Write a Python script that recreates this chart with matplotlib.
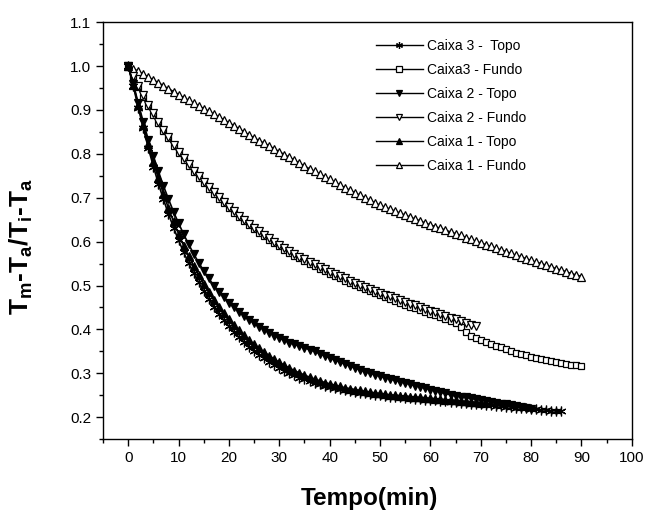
import numpy as np
import matplotlib
matplotlib.use('Agg')
import matplotlib.pyplot as plt
from matplotlib.ticker import MultipleLocator

plt.rcParams['font.family'] = ['Liberation Sans', 'DejaVu Sans']
plt.rcParams['mathtext.fontset'] = 'custom'
plt.rcParams['mathtext.rm'] = 'Liberation Sans:bold'

# values, one point per minute
caixa3_topo = [1.000, 0.955, 0.905, 0.858, 0.813, 0.771, 0.732, 0.696, 0.663, 0.632,
               0.603, 0.576, 0.551, 0.528, 0.507, 0.487, 0.469, 0.452, 0.436, 0.421,
               0.407, 0.394, 0.382, 0.371, 0.361, 0.351, 0.342, 0.334, 0.326, 0.319,
               0.312, 0.306, 0.300, 0.295, 0.290, 0.286, 0.282, 0.278, 0.275, 0.272,
               0.269, 0.266, 0.264, 0.262, 0.260, 0.258, 0.256, 0.254, 0.253, 0.251,
               0.250, 0.248, 0.247, 0.246, 0.245, 0.244, 0.243, 0.242, 0.241, 0.240,
               0.239, 0.238, 0.237, 0.236, 0.235, 0.234, 0.233, 0.232, 0.231, 0.230,
               0.229, 0.228, 0.227, 0.226, 0.225, 0.224, 0.223, 0.222, 0.221, 0.220,
               0.219, 0.218, 0.217, 0.216, 0.215, 0.214, 0.213]

caixa3_fundo = [1.000, 0.975, 0.952, 0.930, 0.909, 0.889, 0.870, 0.852, 0.835, 0.818,
                0.802, 0.787, 0.773, 0.759, 0.746, 0.733, 0.721, 0.709, 0.698, 0.687,
                0.676, 0.666, 0.656, 0.647, 0.638, 0.629, 0.620, 0.612, 0.604, 0.596,
                0.589, 0.582, 0.575, 0.568, 0.562, 0.556, 0.550, 0.544, 0.538, 0.532,
                0.527, 0.521, 0.516, 0.511, 0.506, 0.501, 0.496, 0.491, 0.487, 0.482,
                0.478, 0.473, 0.469, 0.465, 0.460, 0.456, 0.452, 0.448, 0.444, 0.440,
                0.436, 0.432, 0.428, 0.424, 0.420, 0.414, 0.405, 0.395, 0.386, 0.380,
                0.375, 0.371, 0.367, 0.363, 0.359, 0.355, 0.351, 0.347, 0.344, 0.341,
                0.338, 0.335, 0.333, 0.330, 0.328, 0.326, 0.324, 0.322, 0.320, 0.318,
                0.316]

caixa2_topo = [1.000, 0.960, 0.915, 0.872, 0.832, 0.795, 0.760, 0.727, 0.697, 0.668,
               0.642, 0.617, 0.594, 0.572, 0.552, 0.533, 0.516, 0.500, 0.486, 0.473,
               0.461, 0.450, 0.440, 0.431, 0.422, 0.414, 0.406, 0.399, 0.392, 0.386,
               0.380, 0.375, 0.370, 0.366, 0.362, 0.358, 0.354, 0.350, 0.345, 0.340,
               0.335, 0.330, 0.326, 0.321, 0.317, 0.312, 0.308, 0.304, 0.300, 0.297,
               0.293, 0.290, 0.287, 0.284, 0.281, 0.278, 0.275, 0.272, 0.269, 0.266,
               0.263, 0.260, 0.257, 0.254, 0.251, 0.249, 0.247, 0.245, 0.243, 0.241,
               0.239, 0.237, 0.235, 0.233, 0.231, 0.229, 0.227, 0.225, 0.223, 0.221,
               0.219]

caixa2_fundo = [1.000, 0.978, 0.955, 0.933, 0.912, 0.892, 0.873, 0.855, 0.838, 0.821,
                0.805, 0.790, 0.776, 0.762, 0.749, 0.736, 0.724, 0.712, 0.701, 0.690,
                0.679, 0.669, 0.659, 0.650, 0.641, 0.632, 0.624, 0.616, 0.608, 0.600,
                0.593, 0.586, 0.579, 0.572, 0.566, 0.560, 0.554, 0.548, 0.542, 0.537,
                0.531, 0.526, 0.521, 0.516, 0.511, 0.506, 0.501, 0.497, 0.492, 0.488,
                0.483, 0.479, 0.475, 0.471, 0.467, 0.463, 0.459, 0.455, 0.451, 0.447,
                0.443, 0.439, 0.435, 0.431, 0.427, 0.423, 0.419, 0.415, 0.411, 0.407]

caixa1_topo = [1.000, 0.958, 0.911, 0.866, 0.823, 0.782, 0.744, 0.709, 0.676, 0.646,
               0.618, 0.591, 0.567, 0.544, 0.523, 0.503, 0.485, 0.468, 0.452, 0.437,
               0.423, 0.410, 0.398, 0.387, 0.376, 0.366, 0.357, 0.348, 0.340, 0.332,
               0.325, 0.318, 0.312, 0.306, 0.301, 0.296, 0.291, 0.287, 0.283, 0.279,
               0.276, 0.273, 0.270, 0.267, 0.265, 0.263, 0.261, 0.259, 0.257, 0.255,
               0.254, 0.252, 0.251, 0.250, 0.249, 0.248, 0.247, 0.246, 0.245, 0.244,
               0.243, 0.242, 0.241, 0.240, 0.239, 0.238, 0.237, 0.236, 0.235, 0.234,
               0.233]

caixa1_fundo = [1.000, 0.994, 0.988, 0.981, 0.975, 0.968, 0.962, 0.955, 0.948, 0.942,
                0.935, 0.928, 0.922, 0.915, 0.909, 0.903, 0.897, 0.890, 0.884, 0.877,
                0.871, 0.864, 0.857, 0.850, 0.843, 0.836, 0.830, 0.824, 0.818, 0.811,
                0.805, 0.798, 0.792, 0.785, 0.779, 0.772, 0.766, 0.760, 0.754, 0.748,
                0.742, 0.735, 0.729, 0.723, 0.717, 0.711, 0.706, 0.700, 0.694, 0.688,
                0.683, 0.678, 0.674, 0.669, 0.665, 0.660, 0.656, 0.651, 0.647, 0.642,
                0.638, 0.634, 0.630, 0.626, 0.622, 0.618, 0.614, 0.609, 0.605, 0.601,
                0.597, 0.593, 0.589, 0.585, 0.581, 0.577, 0.573, 0.569, 0.565, 0.561,
                0.557, 0.553, 0.550, 0.546, 0.542, 0.538, 0.535, 0.531, 0.527, 0.524,
                0.520]

labels = ['Caixa 3 -  Topo', 'Caixa3 - Fundo', 'Caixa 2 - Topo',
          'Caixa 2 - Fundo', 'Caixa 1 - Topo', 'Caixa 1 - Fundo']

fig = plt.figure(figsize=(6.48, 5.16), dpi=100)
ax = fig.add_axes([0.159, 0.149, 0.816, 0.808])

series = [caixa3_topo, caixa3_fundo, caixa2_topo, caixa2_fundo, caixa1_topo, caixa1_fundo]
markers = [(6, 2, 0), 's', 'v', 'v', '^', '^']
faces = ['k', 'white', 'k', 'white', 'k', 'white']
sizes = [7, 5, 6, 6, 6, 6]

# fundo curves first, dark topo bands on top
order = [5, 1, 3, 2, 4, 0]
for i in order:
    y = series[i]
    x = np.arange(len(y))
    ax.plot(x, y, color='k', lw=1.2, marker=markers[i], ms=sizes[i],
            mfc=faces[i], mec='k', mew=0.9, label=labels[i])

handles, labs = ax.get_legend_handles_labels()
hmap = dict(zip(labs, handles))
leg = ax.legend([hmap[l] for l in labels], labels, loc='upper left',
                bbox_to_anchor=(0.565, 0.944), bbox_transform=fig.transFigure,
                frameon=False, fontsize=10, numpoints=1, handlelength=3.4,
                handletextpad=0.3, labelspacing=0.72, borderpad=0.2)
for h in leg.legend_handles:
    h.set_markersize(5)
    h.set_linewidth(1.0)

ax.set_xlim(-5, 100)
ax.set_ylim(0.15, 1.1)
ax.xaxis.set_major_locator(MultipleLocator(10))
ax.xaxis.set_minor_locator(MultipleLocator(5))
ax.yaxis.set_major_locator(MultipleLocator(0.1))
ax.yaxis.set_minor_locator(MultipleLocator(0.05))
ax.yaxis.set_major_formatter(plt.FuncFormatter(lambda v, p: '%.1f' % v))
ax.tick_params(which='major', direction='out', length=5, width=1, labelsize=11,
               top=False, right=False)
ax.tick_params(which='minor', direction='out', length=3, width=1,
               top=False, right=False)
for s in ax.spines.values():
    s.set_linewidth(1.0)

fig.text(369 / 648, 1 - 498 / 516, 'Tempo(min)', ha='center', va='center',
         fontsize=17.5, fontweight='bold')
fig.text(21 / 648, 1 - 247 / 516,
         r'T$_\mathregular{m}$-T$_\mathregular{a}$/T$_\mathregular{i}$-T$_\mathregular{a}$',
         rotation=90, ha='center', va='center', fontsize=19, fontweight='bold')

fig.savefig('out.png', dpi=100, facecolor='white')
